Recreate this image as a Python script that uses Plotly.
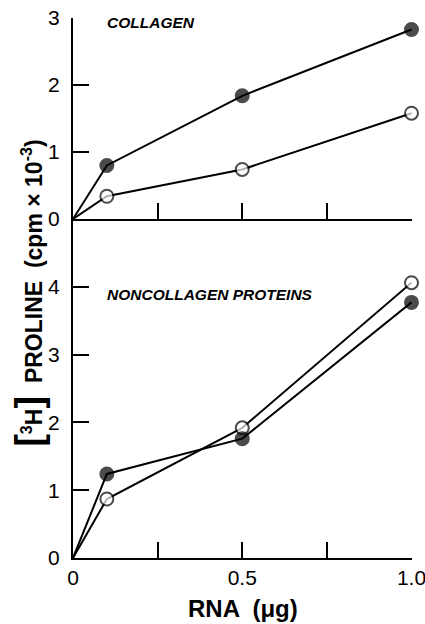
import plotly.graph_objects as go
from plotly.subplots import make_subplots

rna = [0, 0.1, 0.5, 1.0]
collagen_filled = [0, 0.80, 1.84, 2.83]
collagen_open = [0, 0.34, 0.74, 1.58]
noncoll_filled = [0, 1.24, 1.76, 3.77]
noncoll_open = [0, 0.87, 1.92, 4.06]

x_ticks = [0, 0.25, 0.5, 0.75, 1.0]
x_ticktext = ["0", "", "0.5", "", "1.0"]
top_yticks = [0, 1, 2, 3]
bot_yticks = [0, 1, 2, 3, 4]

FONT = "Liberation Sans"
split = 339 / 540

fig = make_subplots(rows=2, cols=1, vertical_spacing=0, row_heights=[1 - split, split])

def add(x, y, filled, row):
    fig.add_trace(go.Scatter(
        x=x, y=y, mode="lines+markers", cliponaxis=False,
        line=dict(color="black", width=2),
        marker=dict(size=[0] + [13] * (len(x) - 1), symbol="circle",
                    color="black" if filled else "white",
                    line=dict(color="black", width=2)),
        showlegend=False), row=row, col=1)

add(rna, collagen_open, False, 1)
add(rna, collagen_filled, True, 1)
add(rna, noncoll_open, False, 2)
add(rna, noncoll_filled, True, 2)

axis_common = dict(showline=True, linecolor="black", linewidth=2, ticks="inside",
                   ticklen=16, tickwidth=2, tickcolor="black", showgrid=False,
                   zeroline=False, mirror=False, ticklabeloverflow="allow",
                   automargin=False,
                   tickfont=dict(family=FONT, size=21, color="black"))

fig.update_xaxes(range=[0, 1.0015], tickvals=x_ticks, ticktext=x_ticktext, **axis_common)
fig.update_xaxes(showticklabels=False, row=1, col=1)
fig.update_yaxes(ticklabelstandoff=7, **axis_common)
fig.update_yaxes(range=[0, 3.002], tickvals=top_yticks, row=1, col=1)
fig.update_yaxes(range=[0, 5], tickvals=bot_yticks, row=2, col=1)

big = '<span style="font-size:38px">'
ytitle = (big + "[</span><sup>3</sup>H" + big + "]</span>  PROLINE  (cpm × 10<sup>-3</sup>)")

fig.add_annotation(text="<b>" + ytitle + "</b>", xref="paper", yref="paper",
                   x=-0.13, y=0.491, textangle=-90, showarrow=False,
                   xanchor="center", yanchor="middle",
                   font=dict(family=FONT, size=23, color="black"))
fig.add_annotation(text="<b>RNA  (μg)</b>", xref="paper", yref="paper",
                   x=0.5, y=-0.0926, showarrow=False, xanchor="center", yanchor="middle",
                   font=dict(family=FONT, size=24, color="black"))
fig.add_annotation(text="<b><i>COLLAGEN</i></b>", xref="x", yref="y", x=0.094, y=2.93,
                   showarrow=False, xanchor="left", yanchor="middle",
                   font=dict(family=FONT, size=15.5, color="black"))
fig.add_annotation(text="<b><i>NONCOLLAGEN PROTEINS</i></b>", xref="x2", yref="y2", x=0.094, y=3.89,
                   showarrow=False, xanchor="left", yanchor="middle",
                   font=dict(family=FONT, size=15.5, color="black"))

fig.update_layout(width=425, height=624, margin=dict(l=73, r=13, t=18, b=66),
                  plot_bgcolor="white", paper_bgcolor="white")

fig.write_html("out.html")
